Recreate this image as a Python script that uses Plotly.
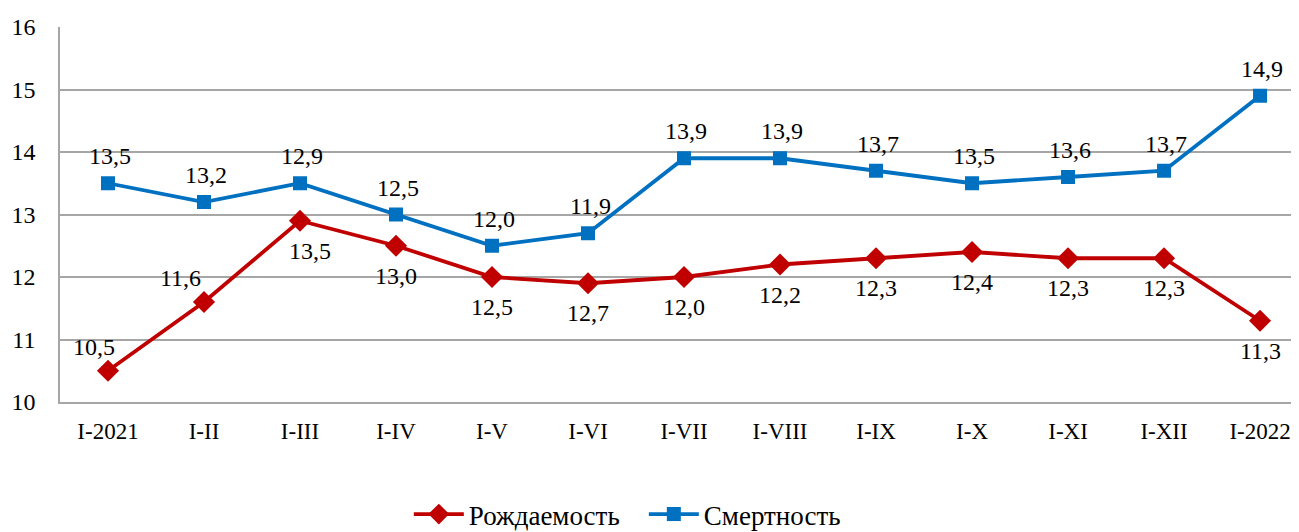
import plotly.graph_objects as go

categories = ["I-2021", "I-II", "I-III", "I-IV", "I-V", "I-VI", "I-VII",
              "I-VIII", "I-IX", "I-X", "I-XI", "I-XII", "I-2022"]
births = [10.5, 11.6, 12.9, 12.5, 12.0, 11.9, 12.0, 12.2, 12.3, 12.4, 12.3, 12.3, 11.3]
deaths = [13.5, 13.2, 13.5, 13.0, 12.5, 12.7, 13.9, 13.9, 13.7, 13.5, 13.6, 13.7, 14.9]
births_labels = ["10,5", "11,6", "13,5", "13,0", "12,5", "12,7", "12,0",
                 "12,2", "12,3", "12,4", "12,3", "12,3", "11,3"]
deaths_labels = ["13,5", "13,2", "12,9", "12,5", "12,0", "11,9", "13,9",
                 "13,9", "13,7", "13,5", "13,6", "13,7", "14,9"]
y_ticks = [10, 11, 12, 13, 14, 15, 16]

RED = "#C00000"
BLUE = "#0070C0"
FONT = "'Liberation Serif', 'Times New Roman', serif"

fig = go.Figure()
fig.add_trace(go.Scatter(
    x=categories, y=births, name="Рождаемость", mode="lines+markers",
    line=dict(color=RED, width=3.8),
    marker=dict(symbol="diamond", size=17, color=RED),
))
fig.add_trace(go.Scatter(
    x=categories, y=deaths, name="Смертность", mode="lines+markers",
    line=dict(color=BLUE, width=3.8),
    marker=dict(symbol="square", size=14, color=BLUE),
))

label_font = dict(family=FONT, size=24, color="black")
annotations = []
for i, (c, v, t) in enumerate(zip(categories, deaths, deaths_labels)):
    annotations.append(dict(x=c, y=v, text=t, showarrow=False, yshift=27,
                            xshift=2, font=label_font))
for i, (c, v, t) in enumerate(zip(categories, births, births_labels)):
    if i < 2:
        xs, ys = (-14 if i == 0 else -24), 24
    elif i == 2:
        xs, ys = 10, -30
    else:
        xs, ys = 0, -30
    annotations.append(dict(x=c, y=v, text=t, showarrow=False, yshift=ys,
                            xshift=xs, font=label_font))

fig.update_layout(
    width=1299, height=532,
    margin=dict(l=52, r=10, t=19, b=138, autoexpand=False),
    paper_bgcolor="white", plot_bgcolor="white",
    font=dict(family=FONT, color="black"),
    annotations=annotations,
    showlegend=True,
    legend=dict(orientation="h", x=0.282, xanchor="left", y=-0.300, yanchor="middle",
                font=dict(family=FONT, size=27, color="black"),
                itemwidth=50, tracegroupgap=0,
                entrywidth=170, entrywidthmode="pixels"),
    xaxis=dict(
        type="category", range=[-0.5, 12.385], automargin=False,
        showgrid=False, showline=True, linecolor="#A6A6A6", linewidth=1.5,
        ticks="", tickfont=dict(family=FONT, size=23, color="black"),
        ticklabelstandoff=8,
    ),
    yaxis=dict(
        range=[10, 16], tickvals=y_ticks, ticktext=[str(v) for v in y_ticks],
        automargin=False,
        showgrid=True, gridcolor="#A6A6A6", gridwidth=1.5,
        showline=True, linecolor="#A6A6A6", linewidth=1.5,
        zeroline=False, ticks="",
        tickfont=dict(family=FONT, size=24, color="black"),
        ticklabelstandoff=18,
    ),
)

fig.write_html("out.html")
